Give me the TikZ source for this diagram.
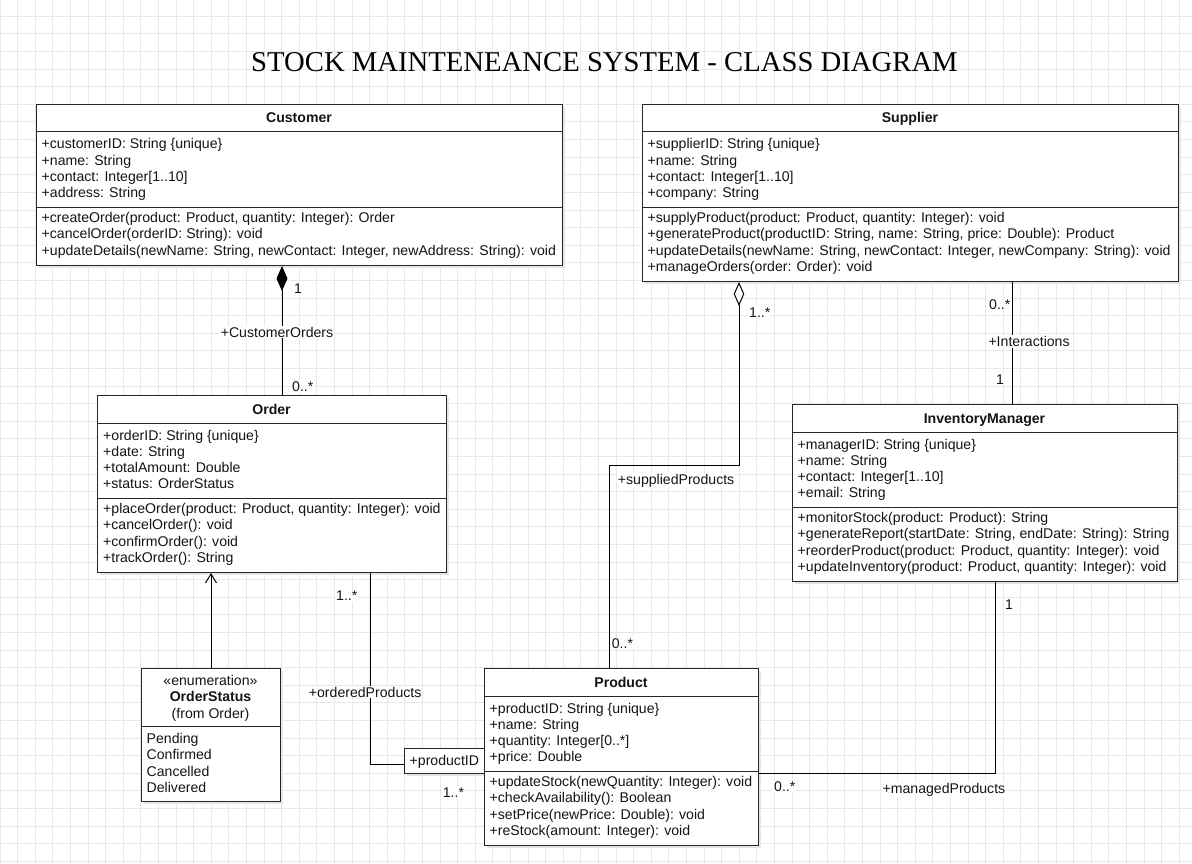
\documentclass[tikz,border=0pt]{standalone}
\usepackage{fontspec}
\setmainfont{Liberation Sans}
\newfontfamily\titlefont{Liberation Serif}
\usetikzlibrary{arrows.meta}

\tikzset{
 classbox/.style={draw=black!85, fill=white, line width=1pt, inner sep=0pt, anchor=north west},
 shadowfill/.style={fill=black!10, draw=none},
 txt/.style={inner sep=0pt, anchor=base west, font=\fontsize{14.1}{16.3}\selectfont, text=black!92},
 ttl/.style={inner sep=0pt, anchor=base, font=\fontsize{14.1}{16.3}\selectfont\bfseries, text=black!92},
 ctr/.style={inner sep=0pt, anchor=base, font=\fontsize{14.1}{16.3}\selectfont, text=black!92},
 lbl/.style={txt, fill=white, inner sep=1pt},
 sepline/.style={draw=black!85, line width=1pt},
 conn/.style={draw=black, line width=1pt},
 gridline/.style={draw=black!9, line width=1pt},
}

\newcommand\mklines[4]{%
  \foreach \itm [count=\i from 0] in {#4} {\node[txt, name=#1-\i] at (#2, #3+16.3*\i) {\itm};}}

\begin{document}
\begin{tikzpicture}[x=1pt,y=-1pt]
\fill[white] (0,0) rectangle (1192,864);
\useasboundingbox (0,0) rectangle (1192,864);

% grid
\foreach \i in {0,...,67} \draw[gridline] (17.6*\i,0) -- (17.6*\i,864);
\foreach \j in {1,...,49} \draw[gridline] (0,17.6*\j-1.2) -- (1192,17.6*\j-1.2);

% title
\node[font=\titlefont\fontsize{28.7}{34}\selectfont, anchor=base, inner sep=0pt] (title) at (604.5,71.7) {STOCK MAINTENEANCE SYSTEM - CLASS DIAGRAM};

% shadows
\fill[shadowfill] (39,107) rectangle (565,268);
\fill[shadowfill] (645,107) rectangle (1181,284);
\fill[shadowfill] (100,398) rectangle (449,575);
\fill[shadowfill] (795,407) rectangle (1180,584);
\fill[shadowfill] (144,671) rectangle (283,804);
\fill[shadowfill] (487,671) rectangle (761,848);
\fill[shadowfill] (407,751) rectangle (487,776);

% Customer
\node[classbox, minimum width=526pt, minimum height=161pt] (cust) at (36,104) {};
\draw[sepline] (36,132) -- (562,132);
\draw[sepline] (36,207) -- (562,207);
\node[ttl] (custT) at (299,123) {Customer};
\mklines{custA}{41.5}{149}{{+customerID: String \{unique\}},{+name: String},{+contact: Integer[1..10]},{+address: String}}
\mklines{custM}{41.5}{222.5}{{+createOrder(product: Product, quantity: Integer): Order},{+cancelOrder(orderID: String): void},{+updateDetails(newName: String, newContact: Integer, newAddress: String): void}}

% Supplier
\node[classbox, minimum width=536pt, minimum height=177pt] (sup) at (642,104) {};
\draw[sepline] (642,132) -- (1178,132);
\draw[sepline] (642,207) -- (1178,207);
\node[ttl] (supT) at (910,123) {Supplier};
\mklines{supA}{647.5}{149}{{+supplierID: String \{unique\}},{+name: String},{+contact: Integer[1..10]},{+company: String}}
\mklines{supM}{647.5}{222.5}{{+supplyProduct(product: Product, quantity: Integer): void},{+generateProduct(productID: String, name: String, price: Double): Product},{+updateDetails(newName: String, newContact: Integer, newCompany: String): void},{+manageOrders(order: Order): void}}

% Order
\node[classbox, minimum width=349pt, minimum height=177pt] (order) at (97,395) {};
\draw[sepline] (97,423) -- (446,423);
\draw[sepline] (97,498) -- (446,498);
\node[ttl] (orderT) at (271.5,414) {Order};
\mklines{orderA}{103}{440}{{+orderID: String \{unique\}},{+date: String},{+totalAmount: Double},{+status: OrderStatus}}
\mklines{orderM}{103}{513.5}{{+placeOrder(product: Product, quantity: Integer): void},{+cancelOrder(): void},{+confirmOrder(): void},{+trackOrder(): String}}

% InventoryManager
\node[classbox, minimum width=385pt, minimum height=177pt] (im) at (792,404) {};
\draw[sepline] (792,432) -- (1177,432);
\draw[sepline] (792,507) -- (1177,507);
\node[ttl] (imT) at (984.5,423) {InventoryManager};
\mklines{imA}{797.5}{449}{{+managerID: String \{unique\}},{+name: String},{+contact: Integer[1..10]},{+email: String}}
\mklines{imM}{797.5}{522.5}{{+monitorStock(product: Product): String},{+generateReport(startDate: String, endDate: String): String},{+reorderProduct(product: Product, quantity: Integer): void},{+updateInventory(product: Product, quantity: Integer): void}}

% OrderStatus
\node[classbox, minimum width=139pt, minimum height=133pt] (os) at (141,668) {};
\draw[sepline] (141,726) -- (280,726);
\node[ctr] (osS) at (210.5,685) {«enumeration»};
\node[ttl] (osT) at (210.5,701.5) {OrderStatus};
\node[ctr] (osF) at (210.5,718) {(from Order)};
\mklines{osV}{146.5}{743.5}{{Pending},{Confirmed},{Cancelled},{Delivered}}

% Product
\node[classbox, minimum width=274pt, minimum height=177pt] (prod) at (484,668) {};
\draw[sepline] (484,696) -- (758,696);
\draw[sepline] (484,771) -- (758,771);
\node[ttl] (prodT) at (621,687) {Product};
\mklines{prodA}{489.5}{713}{{+productID: String \{unique\}},{+name: String},{+quantity: Integer[0..*]},{+price: Double}}
\mklines{prodM}{489.5}{786.5}{{+updateStock(newQuantity: Integer): void},{+checkAvailability(): Boolean},{+setPrice(newPrice: Double): void},{+reStock(amount: Integer): void}}

% qualifier
\node[classbox, minimum width=80pt, minimum height=25pt] (qual) at (404,748) {};
\node[txt] (qualT) at (409.5,765.5) {+productID};

% connectors
\coordinate (x1) at (282,0);
\draw[conn, {Diamond[length=25pt,width=11pt]}-] (cust.south -| x1) -- (order.north -| x1);

\coordinate (a1) at (739,465);
\coordinate (a2) at (609,465);
\draw[conn, {Diamond[length=24pt,width=10.5pt,fill=white]}-] (sup.south -| a1) -- (a1) -- (a2) -- (prod.north -| a2);

\coordinate (x3) at (1012,0);
\draw[conn] (sup.south -| x3) -- (im.north -| x3);

\coordinate (b1) at (995,773);
\draw[conn] (im.south -| b1) -- (b1) -- (prod.east |- b1);

\coordinate (x5) at (211,0);
\draw[conn, -{Straight Barb[length=9pt,width=11pt]}] (os.north -| x5) -- (order.south -| x5);

\coordinate (d1) at (370,764);
\draw[conn] (order.south -| d1) -- (d1) -- (qual.west |- d1);

% labels
\node[lbl] (m1) at (293,293.5) {1};
\node[lbl, anchor=base] (r1) at (277,337) {+CustomerOrders};
\node[lbl] (m2) at (291,391) {0..*};
\node[lbl] (m3) at (748,317) {1..*};
\node[lbl] (r2) at (616.7,484.5) {+suppliedProducts};
\node[lbl] (m4) at (610.7,648) {0..*};
\node[lbl] (m5) at (988,309) {0..*};
\node[lbl] (r3) at (987.3,346.5) {+Interactions};
\node[lbl] (m6) at (995,384) {1};
\node[lbl] (m7) at (1004,609) {1};
\node[lbl] (m8) at (773,791.7) {0..*};
\node[lbl] (r4) at (881.4,793.5) {+managedProducts};
\node[lbl] (m9) at (335,600.5) {1..*};
\node[lbl] (r5) at (307.7,697) {+orderedProducts};
\node[lbl] (m10) at (441.7,797.5) {1..*};
\end{tikzpicture}
\end{document}
